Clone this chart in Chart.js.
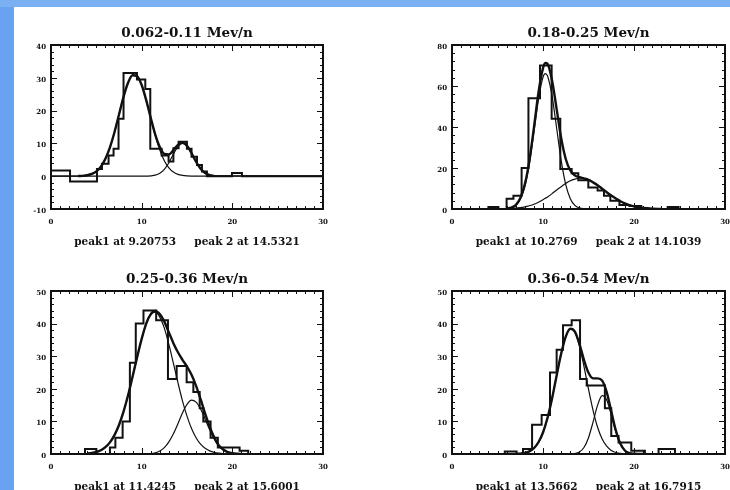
<!DOCTYPE html>
<html><head><meta charset="utf-8">
<script src="https://cdn.jsdelivr.net/npm/chart.js@4.4.1/dist/chart.umd.min.js"></script>
<style>
html,body{margin:0;padding:0;width:730px;height:490px;overflow:hidden;background:#68a2f0;}
#topband{position:absolute;left:0;top:0;width:730px;height:7px;background:#7bb0f3;}
#sheet{position:absolute;left:14px;top:7px;width:716px;height:483px;background:#ffffff;}
canvas{position:absolute;}
</style></head><body>
<div id="topband"></div>
<div id="sheet"></div>
<canvas id="c1"></canvas><canvas id="c2"></canvas><canvas id="c3"></canvas><canvas id="c4"></canvas>
<script>
// ---------- shared axis ----------
const xTicks = [0, 10, 20, 30];

// ---------- panel 1 ----------
const p1Title = "0.062-0.11 Mev/n";
const p1Caption = "peak1 at 9.20753     peak 2 at 14.5321";
const p1YTicks = [-10, 0, 10, 20, 30, 40];
const p1HistX = [0, 2.1, 5.07, 5.62, 6.35, 6.9, 7.45, 8.0, 9.48, 10.4, 10.95, 12.2, 12.97, 13.5, 14.07, 14.99, 15.5, 16.1, 16.65, 17.2, 19.96, 21.06, 30];
const p1HistY = [1.7, -1.6, 2.2, 3.8, 6.3, 8.4, 17.5, 31.5, 29.5, 26.6, 8.4, 6.3, 4.5, 8.5, 10.5, 8.4, 5.9, 3.4, 1.4, 0, 1, 0, 0];
const p1FitX = [0, 3, 3.5, 4, 4.5, 5, 5.5, 6, 6.5, 7, 7.5, 8, 8.5, 9, 9.5, 10, 10.5, 11, 11.5, 12, 12.5, 13, 13.5, 14, 14.5, 15, 15.5, 16, 16.5, 17, 17.5, 18, 30];
const p1Peak1 = [0, 0.04, 0.11, 0.29, 0.68, 1.47, 2.9, 5.3, 8.8, 13.4, 18.8, 24.2, 28.5, 30.8, 30.5, 27.8, 23.2, 17.7, 12.4, 8.0, 4.7, 2.55, 1.26, 0.57, 0.24, 0.09, 0.03, 0.01, 0, 0, 0, 0, 0];
const p1Peak2 = [0, 0, 0, 0, 0, 0, 0, 0, 0, 0, 0, 0, 0, 0, 0, 0, 0, 0.09, 0.31, 0.89, 2.1, 4.1, 6.7, 9.0, 10.0, 9.2, 7.0, 4.4, 2.3, 1.0, 0.36, 0.1, 0];
const p1Total = [null, 0.04, 0.11, 0.29, 0.68, 1.47, 2.9, 5.3, 8.8, 13.4, 18.8, 24.2, 28.5, 30.8, 30.5, 27.8, 23.2, 17.8, 12.7, 8.9, 6.8, 6.65, 7.96, 9.57, 10.24, 9.29, 7.03, 4.41, 2.3, 1.0, 0.36, 0.1, null];

// ---------- panel 2 ----------
const p2Title = "0.18-0.25 Mev/n";
const p2Caption = "peak1 at 10.2769     peak 2 at 14.1039";
const p2YTicks = [0, 20, 40, 60, 80];
const p2HistX = [0, 4.0, 5.1, 6.0, 6.75, 7.65, 8.4, 9.67, 10.95, 11.9, 13.15, 13.88, 14.98, 16.0, 16.7, 17.4, 18.4, 19.5, 20.8, 23.7, 24.9, 30];
const p2HistY = [0, 1, 0, 5, 6.5, 20, 54, 70, 44, 19.5, 17.5, 14, 10.5, 9, 6.5, 4, 2, 1.5, 0, 1, 0, 0];
const p2FitX = [0, 6, 6.5, 7, 7.5, 8, 8.5, 9, 9.5, 10, 10.25, 10.5, 11, 11.5, 12, 12.5, 13, 13.5, 14, 14.5, 15, 15.5, 16, 16.5, 17, 17.5, 18, 18.5, 19, 19.5, 20, 20.5, 21, 22, 23, 30];
const p2Peak1 = [0, 0.12, 0.47, 1.55, 4.6, 10.9, 21.9, 37.3, 53.4, 64.2, 66.0, 64.9, 55.1, 39.4, 23.6, 11.9, 5.0, 1.8, 0.54, 0.14, 0.03, 0, 0, 0, 0, 0, 0, 0, 0, 0, 0, 0, 0, 0, 0, 0];
const p2Peak2 = [0, 0.14, 0.24, 0.41, 0.67, 1.05, 1.6, 2.3, 3.3, 4.5, 5.2, 5.9, 7.5, 9.3, 10.9, 12.5, 13.8, 14.6, 15.0, 14.8, 14.2, 13.0, 11.6, 9.9, 8.2, 6.6, 5.1, 3.8, 2.7, 1.9, 1.24, 0.8, 0.5, 0.17, 0.05, 0];
const p2Total = [null, 0.26, 0.71, 1.96, 5.3, 12.0, 23.5, 39.6, 56.7, 68.7, 71.2, 70.8, 62.6, 48.7, 34.5, 24.4, 18.8, 16.4, 15.5, 14.9, 14.2, 13.0, 11.6, 9.9, 8.2, 6.6, 5.1, 3.8, 2.7, 1.9, 1.24, 0.8, 0.5, 0.17, 0.05, null];

// ---------- panel 3 ----------
const p3Title = "0.25-0.36 Mev/n";
const p3Caption = "peak1 at 11.4245     peak 2 at 15.6001";
const p3YTicks = [0, 10, 20, 30, 40, 50];
const p3HistX = [0, 3.75, 5.0, 6.5, 7.1, 7.9, 8.7, 9.35, 10.2, 11.6, 12.9, 13.86, 14.96, 15.7, 16.4, 16.8, 17.6, 18.4, 20.8, 21.75, 30];
const p3HistY = [0, 1.5, 0, 2, 5, 10, 28, 40, 44, 41, 23, 27, 22, 19, 14, 10, 5, 2, 1, 0, 0];
const p3FitX = [0, 4, 4.5, 5, 5.5, 6, 6.5, 7, 7.5, 8, 8.5, 9, 9.5, 10, 10.5, 11, 11.5, 12, 12.5, 13, 13.5, 14, 14.5, 15, 15.5, 16, 16.5, 17, 17.5, 18, 18.5, 19, 19.5, 20, 20.5, 21, 30];
const p3Peak1 = [0, 0.15, 0.31, 0.61, 1.16, 2.1, 3.57, 5.8, 8.9, 13.0, 18.0, 23.8, 29.7, 35.3, 39.9, 42.7, 43.5, 42.0, 38.6, 33.6, 27.8, 21.9, 16.3, 11.6, 7.8, 5.0, 3.0, 1.74, 0.96, 0.5, 0.24, 0.11, 0.05, 0.02, 0.01, 0, 0];
const p3Peak2 = [0, 0, 0, 0, 0, 0, 0, 0, 0, 0, 0, 0, 0, 0.01, 0.05, 0.15, 0.39, 0.93, 1.95, 3.7, 6.2, 9.3, 12.6, 15.2, 16.5, 15.9, 13.8, 10.7, 7.4, 4.6, 2.5, 1.26, 0.56, 0.22, 0.08, 0.03, 0];
const p3Total = [null, 0.15, 0.31, 0.61, 1.16, 2.1, 3.57, 5.8, 8.9, 13.0, 18.0, 23.8, 29.7, 35.3, 40.0, 42.9, 43.9, 42.9, 40.6, 37.3, 34.0, 31.2, 28.9, 26.8, 24.3, 20.9, 16.8, 12.4, 8.4, 5.1, 2.7, 1.37, 0.6, 0.24, 0.09, 0.03, null];

// ---------- panel 4 ----------
const p4Title = "0.36-0.54 Mev/n";
const p4Caption = "peak1 at 13.5662     peak 2 at 16.7915";
const p4YTicks = [0, 10, 20, 30, 40, 50];
const p4HistX = [0, 5.8, 7.1, 7.8, 8.8, 9.85, 10.77, 11.5, 12.2, 13.15, 14.07, 14.8, 16.8, 17.5, 18.3, 19.7, 21.2, 22.7, 24.5, 30];
const p4HistY = [0, 0.8, 0, 1.5, 9, 12, 25, 32, 39.5, 41, 23, 21, 14, 5.5, 3.5, 1, 0, 1.5, 0, 0];
const p4FitX = [0, 7, 7.5, 8, 8.5, 9, 9.5, 10, 10.5, 11, 11.5, 12, 12.5, 13, 13.5, 14, 14.5, 15, 15.5, 16, 16.5, 17, 17.5, 18, 18.5, 19, 19.5, 20, 20.5, 21, 30];
const p4Peak1 = [0, 0.04, 0.12, 0.33, 0.79, 1.76, 3.6, 6.6, 11.1, 17.1, 24.1, 30.8, 36.0, 38.4, 37.4, 33.2, 26.9, 19.9, 13.4, 8.2, 4.6, 2.4, 1.1, 0.47, 0.18, 0.07, 0.02, 0.01, 0, 0, 0];
const p4Peak2 = [0, 0, 0, 0, 0, 0, 0, 0, 0, 0, 0, 0, 0, 0.03, 0.15, 0.61, 2.0, 5.0, 9.8, 15.0, 17.9, 16.6, 12.0, 6.8, 3.0, 1.0, 0.27, 0.06, 0.01, 0, 0];
const p4Total = [null, 0.04, 0.12, 0.33, 0.79, 1.76, 3.6, 6.6, 11.1, 17.1, 24.1, 30.8, 36.0, 38.4, 37.55, 33.8, 28.9, 24.9, 23.2, 23.2, 22.5, 19.0, 13.1, 7.3, 3.2, 1.07, 0.29, 0.07, 0.01, 0, null];

// ---------- rendering ----------
const FONT = "'DejaVu Serif', 'Liberation Serif', serif";
const INK = '#111';

const frameTicks = {
  id: 'frameTicks',
  afterDatasetsDraw(chart, args, opts) {
    const {ctx, chartArea: a, scales} = chart;
    const x = scales.x, y = scales.y;
    ctx.save();
    ctx.strokeStyle = INK;
    ctx.lineWidth = 1;
    const nx = Math.round((x.max - x.min) / opts.xMinor);
    for (let i = 0; i <= nx; i++) {
      const v = x.min + i * opts.xMinor;
      const px = Math.round(x.getPixelForValue(v)) + 0.5;
      const major = Math.abs(v / opts.xMajor - Math.round(v / opts.xMajor)) < 1e-6;
      const len = major ? 6 : 3;
      ctx.beginPath();
      ctx.moveTo(px, a.bottom); ctx.lineTo(px, a.bottom - len);
      ctx.moveTo(px, a.top); ctx.lineTo(px, a.top + len);
      ctx.stroke();
    }
    const ny = Math.round((y.max - y.min) / opts.yMinor);
    for (let i = 0; i <= ny; i++) {
      const v = y.min + i * opts.yMinor;
      const py = Math.round(y.getPixelForValue(v)) + 0.5;
      const major = Math.abs(v / opts.yMajor - Math.round(v / opts.yMajor)) < 1e-6;
      const len = major ? 6 : 3;
      ctx.beginPath();
      ctx.moveTo(a.left, py); ctx.lineTo(a.left + len, py);
      ctx.moveTo(a.right, py); ctx.lineTo(a.right - len, py);
      ctx.stroke();
    }
    ctx.lineWidth = 2;
    ctx.strokeRect(a.left, a.top, a.right - a.left, a.bottom - a.top);
    ctx.restore();
  }
};

function pts(xs, ys) {
  const out = [];
  xs.forEach((x, i) => { if (ys[i] !== null) out.push({x: x, y: ys[i]}); });
  return out;
}

function panel(id, frame, title, caption, yTicks, histX, histY, fitX, g1, g2, tot) {
  const cv = document.getElementById(id);
  const CW = 360, CH = 255;
  cv.width = CW; cv.height = CH;
  cv.style.left = (frame.left - 45) + 'px';
  cv.style.top = (frame.top - 45) + 'px';
  const yMin = yTicks[0], yMax = yTicks[yTicks.length - 1];
  const yStep = yTicks[1] - yTicks[0];
  return new Chart(cv, {
    type: 'scatter',
    data: {
      datasets: [
        {data: pts(histX, histY), showLine: true, stepped: true, borderColor: INK, borderWidth: 2, pointRadius: 0},
        {data: pts(fitX, g1), showLine: true, cubicInterpolationMode: 'monotone', borderColor: INK, borderWidth: 1.2, pointRadius: 0},
        {data: pts(fitX, g2), showLine: true, cubicInterpolationMode: 'monotone', borderColor: INK, borderWidth: 1.2, pointRadius: 0},
        {data: pts(fitX, tot), showLine: true, cubicInterpolationMode: 'monotone', borderColor: INK, borderWidth: 2.4, pointRadius: 0}
      ]
    },
    options: {
      responsive: false, animation: false, events: [],
      layout: {padding: {left: 0, top: 24.9, right: CW - 45 - frame.w, bottom: CH - 45 - frame.h - 39.3}},
      plugins: {
        legend: {display: false}, tooltip: {enabled: false},
        title: {display: true, text: title, fullSize: false, color: INK,
                font: {family: FONT, size: 13.5, weight: 'bold'}, padding: {top: 0, bottom: 3.9}},
        frameTicks: {xMinor: 1, xMajor: 10, yMinor: yStep / 5, yMajor: yStep}
      },
      scales: {
        x: {type: 'linear', position: 'bottom', min: 0, max: 30,
            afterFit: s => { s.height = 39.3; },
            afterBuildTicks: s => { s.ticks = xTicks.map(v => ({value: v})); },
            grid: {display: false, drawTicks: false}, border: {display: false},
            ticks: {padding: 9, color: INK, font: {family: FONT, size: 7, weight: 'bold'}, maxRotation: 0},
            title: {display: true, text: caption, color: INK, padding: {top: 0, bottom: 0},
                    font: {family: FONT, size: 10.5, weight: 'bold'}}},
        y: {type: 'linear', min: yMin, max: yMax,
            afterFit: s => { s.width = 45; },
            afterBuildTicks: s => { s.ticks = yTicks.map(v => ({value: v})); },
            grid: {display: false, drawTicks: false}, border: {display: false},
            ticks: {padding: 5, labelOffset: 2, color: INK, font: {family: FONT, size: 7, weight: 'bold'}}}
      }
    },
    plugins: [frameTicks]
  });
}

panel('c1', {left: 51, top: 45, w: 272, h: 164}, p1Title, p1Caption, p1YTicks, p1HistX, p1HistY, p1FitX, p1Peak1, p1Peak2, p1Total);
panel('c2', {left: 452, top: 45, w: 273, h: 164}, p2Title, p2Caption, p2YTicks, p2HistX, p2HistY, p2FitX, p2Peak1, p2Peak2, p2Total);
panel('c3', {left: 51, top: 291, w: 272, h: 163}, p3Title, p3Caption, p3YTicks, p3HistX, p3HistY, p3FitX, p3Peak1, p3Peak2, p3Total);
panel('c4', {left: 452, top: 291, w: 273, h: 163}, p4Title, p4Caption, p4YTicks, p4HistX, p4HistY, p4FitX, p4Peak1, p4Peak2, p4Total);
</script>
</body></html>
